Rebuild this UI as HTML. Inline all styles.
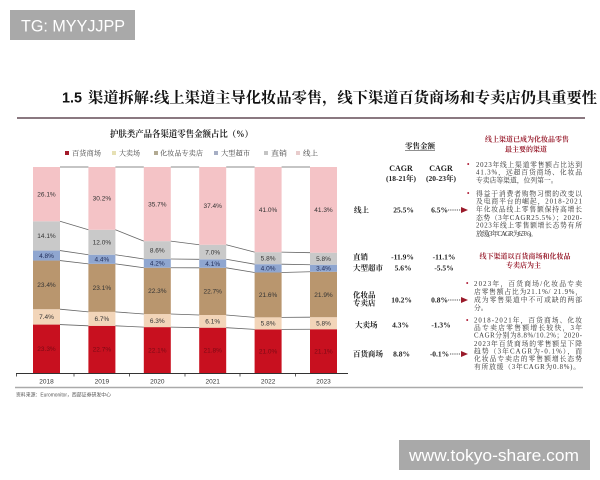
<!DOCTYPE html>
<html><head><meta charset="utf-8"><style>
html,body{margin:0;padding:0;background:#fff;width:600px;height:480px;overflow:hidden}
svg{display:block}
.s{font-family:"Liberation Sans","Noto Sans CJK SC",sans-serif}
.r{font-family:"Liberation Serif","Noto Serif CJK SC",serif}
</style></head><body>
<svg width="600" height="480" viewBox="0 0 600 480" xmlns="http://www.w3.org/2000/svg">
<rect x="0" y="0" width="600" height="480" fill="#fff"/>
<!-- TG box -->
<rect x="10" y="10" width="125" height="30" fill="#a9a9a9"/>
<text x="21" y="31.5" class="s" font-size="17" fill="#fff" textLength="104" lengthAdjust="spacingAndGlyphs">TG: MYYJJPP</text>
<!-- Title -->
<text x="62" y="102.5" class="s" font-size="15" font-weight="700" fill="#111" textLength="20" lengthAdjust="spacingAndGlyphs">1.5</text>
<text x="88" y="102.5" class="r" font-size="15" font-weight="700" fill="#111" textLength="509" lengthAdjust="spacingAndGlyphs">渠道拆解:线上渠道主导化妆品零售，线下渠道百货商场和专卖店仍具重要性</text>
<line x1="17" y1="118" x2="585" y2="118" stroke="#8a7880" stroke-width="2"/>
<!-- chart title -->
<text x="110" y="137" class="r" font-size="9" font-weight="700" fill="#222" textLength="143" lengthAdjust="spacingAndGlyphs">护肤类产品各渠道零售金额占比（%）</text>
<!-- legend -->
<g class="r" font-size="7" fill="#444">
<rect x="65" y="151" width="4" height="4" fill="#a31a2a"/><text x="72" y="155.6" textLength="29" lengthAdjust="spacingAndGlyphs">百货商场</text>
<rect x="112" y="151" width="4" height="4" fill="#e6e0b4"/><text x="119" y="155.6" textLength="21" lengthAdjust="spacingAndGlyphs">大卖场</text>
<rect x="154" y="151" width="4" height="4" fill="#b2aa92"/><text x="160" y="155.6" textLength="43" lengthAdjust="spacingAndGlyphs">化妆品专卖店</text>
<rect x="214" y="151" width="4" height="4" fill="#a6aec4"/><text x="221" y="155.6" textLength="29" lengthAdjust="spacingAndGlyphs">大型超市</text>
<rect x="264" y="151" width="4" height="4" fill="#c4c4c4"/><text x="271" y="155.6" textLength="16" lengthAdjust="spacingAndGlyphs">直销</text>
<rect x="296" y="151" width="4" height="4" fill="#e8cccc"/><text x="303" y="155.6" textLength="15" lengthAdjust="spacingAndGlyphs">线上</text>
</g>
<!-- bars -->
<g>
<rect x="33" y="324.57" width="27" height="48.43" fill="#c8101f"/>
<rect x="33" y="309.19" width="27" height="15.38" fill="#f2d5b9"/>
<rect x="33" y="260.55" width="27" height="48.64" fill="#b9966e"/>
<rect x="33" y="250.57" width="27" height="9.98" fill="#8fa6d0"/>
<rect x="33" y="221.26" width="27" height="29.31" fill="#c9c9c9"/>
<rect x="33" y="167" width="27" height="54.26" fill="#f4c3c6"/>
<rect x="88.4" y="325.81" width="27" height="47.19" fill="#c8101f"/>
<rect x="88.4" y="311.88" width="27" height="13.93" fill="#f2d5b9"/>
<rect x="88.4" y="263.86" width="27" height="48.02" fill="#b9966e"/>
<rect x="88.4" y="254.71" width="27" height="9.15" fill="#8fa6d0"/>
<rect x="88.4" y="229.77" width="27" height="24.94" fill="#c9c9c9"/>
<rect x="88.4" y="167" width="27" height="62.77" fill="#f4c3c6"/>
<rect x="143.8" y="327.11" width="27" height="45.89" fill="#c8101f"/>
<rect x="143.8" y="314.03" width="27" height="13.08" fill="#f2d5b9"/>
<rect x="143.8" y="267.72" width="27" height="46.31" fill="#b9966e"/>
<rect x="143.8" y="259.0" width="27" height="8.72" fill="#8fa6d0"/>
<rect x="143.8" y="241.14" width="27" height="17.86" fill="#c9c9c9"/>
<rect x="143.8" y="167" width="27" height="74.14" fill="#f4c3c6"/>
<rect x="199.2" y="327.68" width="27" height="45.32" fill="#c8101f"/>
<rect x="199.2" y="315.0" width="27" height="12.68" fill="#f2d5b9"/>
<rect x="199.2" y="267.81" width="27" height="47.19" fill="#b9966e"/>
<rect x="199.2" y="259.29" width="27" height="8.52" fill="#8fa6d0"/>
<rect x="199.2" y="244.74" width="27" height="14.55" fill="#c9c9c9"/>
<rect x="199.2" y="167" width="27" height="77.74" fill="#f4c3c6"/>
<rect x="254.6" y="329.39" width="27" height="43.61" fill="#c8101f"/>
<rect x="254.6" y="317.35" width="27" height="12.04" fill="#f2d5b9"/>
<rect x="254.6" y="272.5" width="27" height="44.85" fill="#b9966e"/>
<rect x="254.6" y="264.19" width="27" height="8.31" fill="#8fa6d0"/>
<rect x="254.6" y="252.15" width="27" height="12.04" fill="#c9c9c9"/>
<rect x="254.6" y="167" width="27" height="85.15" fill="#f4c3c6"/>
<rect x="310" y="329.23" width="27" height="43.77" fill="#c8101f"/>
<rect x="310" y="317.2" width="27" height="12.03" fill="#f2d5b9"/>
<rect x="310" y="271.77" width="27" height="45.43" fill="#b9966e"/>
<rect x="310" y="264.72" width="27" height="7.05" fill="#8fa6d0"/>
<rect x="310" y="252.69" width="27" height="12.03" fill="#c9c9c9"/>
<rect x="310" y="167" width="27" height="85.69" fill="#f4c3c6"/>
</g>
<!-- connectors -->
<g stroke="#666" stroke-width="0.8" fill="none">
<path d="M60 167L88.4 167M60 221.26L88.4 229.77M60 250.57L88.4 254.71M60 260.55L88.4 263.86M60 309.19L88.4 311.88M60 324.57L88.4 325.81"/>
<path d="M115.4 167L143.8 167M115.4 229.77L143.8 241.14M115.4 254.71L143.8 259.0M115.4 263.86L143.8 267.72M115.4 311.88L143.8 314.03M115.4 325.81L143.8 327.11"/>
<path d="M170.8 167L199.2 167M170.8 241.14L199.2 244.74M170.8 259.0L199.2 259.29M170.8 267.72L199.2 267.81M170.8 314.03L199.2 315.0M170.8 327.11L199.2 327.68"/>
<path d="M226.2 167L254.6 167M226.2 244.74L254.6 252.15M226.2 259.29L254.6 264.19M226.2 267.81L254.6 272.5M226.2 315.0L254.6 317.35M226.2 327.68L254.6 329.39"/>
<path d="M281.6 167L310 167M281.6 252.15L310 252.69M281.6 264.19L310 264.72M281.6 272.5L310 271.77M281.6 317.35L310 317.2M281.6 329.39L310 329.23"/>
</g>
<!-- bar labels -->
<g class="s" font-size="6.5" text-anchor="middle" fill="#333">
<text x="46.5" y="196.4">26.1%</text><text x="46.5" y="238.2">14.1%</text><text x="46.5" y="257.9" fill="#1e2a55">4.8%</text><text x="46.5" y="287.2">23.4%</text><text x="46.5" y="319.2">7.4%</text><text x="46.5" y="351.1" fill="#7a0a14">23.3%</text>
<text x="101.9" y="200.7">30.2%</text><text x="101.9" y="244.5">12.0%</text><text x="101.9" y="261.6" fill="#1e2a55">4.4%</text><text x="101.9" y="290.2">23.1%</text><text x="101.9" y="321.1">6.7%</text><text x="101.9" y="351.7" fill="#7a0a14">22.7%</text>
<text x="157.3" y="206.4">35.7%</text><text x="157.3" y="252.4">8.6%</text><text x="157.3" y="265.7" fill="#1e2a55">4.2%</text><text x="157.3" y="293.2">22.3%</text><text x="157.3" y="322.9">6.3%</text><text x="157.3" y="352.4" fill="#7a0a14">22.1%</text>
<text x="212.7" y="208.2">37.4%</text><text x="212.7" y="254.3">7.0%</text><text x="212.7" y="265.9" fill="#1e2a55">4.1%</text><text x="212.7" y="293.7">22.7%</text><text x="212.7" y="323.6">6.1%</text><text x="212.7" y="352.6" fill="#7a0a14">21.8%</text>
<text x="268.1" y="211.9">41.0%</text><text x="268.1" y="260.5">5.8%</text><text x="268.1" y="270.6" fill="#1e2a55">4.0%</text><text x="268.1" y="297.2">21.6%</text><text x="268.1" y="325.7">5.8%</text><text x="268.1" y="353.5" fill="#7a0a14">21.0%</text>
<text x="323.5" y="212.1">41.3%</text><text x="323.5" y="261.0">5.8%</text><text x="323.5" y="270.5" fill="#1e2a55">3.4%</text><text x="323.5" y="296.8">21.9%</text><text x="323.5" y="325.5">5.8%</text><text x="323.5" y="353.4" fill="#7a0a14">21.1%</text>
</g>
<!-- axis -->
<line x1="16" y1="373.5" x2="348" y2="373.5" stroke="#333" stroke-width="1"/>
<g stroke="#333" stroke-width="0.8">
<line x1="16.5" y1="373.5" x2="16.5" y2="376.5"/><line x1="74" y1="373.5" x2="74" y2="376.5"/><line x1="129.5" y1="373.5" x2="129.5" y2="376.5"/><line x1="185" y1="373.5" x2="185" y2="376.5"/><line x1="240" y1="373.5" x2="240" y2="376.5"/><line x1="295.5" y1="373.5" x2="295.5" y2="376.5"/>
</g>
<g class="s" font-size="6.5" text-anchor="middle" fill="#333">
<text x="46.5" y="383.5">2018</text><text x="101.9" y="383.5">2019</text><text x="157.3" y="383.5">2020</text><text x="212.7" y="383.5">2021</text><text x="268.1" y="383.5">2022</text><text x="323.5" y="383.5">2023</text>
</g>
<line x1="15" y1="387.5" x2="583" y2="387.5" stroke="#aaa" stroke-width="1.5"/>
<text x="16" y="396.5" class="s" font-size="5" fill="#555" textLength="95" lengthAdjust="spacingAndGlyphs">资料来源：Euromonitor，西部证券研发中心</text>

<!-- table -->
<g class="r" fill="#222" font-weight="700">
<text x="420" y="148.5" font-size="7.5" text-anchor="middle">零售金额</text>
<line x1="405" y1="150.5" x2="435" y2="150.5" stroke="#222" stroke-width="0.6"/>
<text x="401" y="171" font-size="8" text-anchor="middle">CAGR</text>
<text x="401" y="180.8" font-size="7.5" text-anchor="middle">(18-21年)</text>
<text x="441" y="171" font-size="8" text-anchor="middle">CAGR</text>
<text x="441" y="180.8" font-size="7.5" text-anchor="middle">(20-23年)</text>

<g font-size="7.5">
<text x="354" y="212.7">线上</text>
<text x="403.5" y="212.7" text-anchor="middle">25.5%</text>
<text x="439.5" y="212.7" text-anchor="middle">6.5%</text>

<text x="353" y="259.7">直销</text>
<text x="402.5" y="259.7" text-anchor="middle">-11.9%</text>
<text x="444" y="259.7" text-anchor="middle">-11.1%</text>

<text x="353" y="270.7">大型超市</text>
<text x="403" y="270.7" text-anchor="middle">5.6%</text>
<text x="444" y="270.7" text-anchor="middle">-5.5%</text>

<text x="353" y="297.7">化妆品</text>
<text x="353" y="305.7">专卖店</text>
<text x="401.5" y="302.7" text-anchor="middle">10.2%</text>
<text x="439.5" y="302.7" text-anchor="middle">0.8%</text>

<text x="355" y="327.7">大卖场</text>
<text x="400.5" y="327.7" text-anchor="middle">4.3%</text>
<text x="441" y="327.7" text-anchor="middle">-1.3%</text>

<text x="353" y="356.7">百货商场</text>
<text x="401.5" y="356.7" text-anchor="middle">8.8%</text>
<text x="439.5" y="356.7" text-anchor="middle">-0.1%</text>
</g>
</g>
<!-- arrows -->
<g>
<line x1="448" y1="210" x2="462" y2="210" stroke="#555" stroke-width="0.9" stroke-dasharray="1.2 1"/>
<polygon points="461,207 468,210 461,213" fill="#9a1a2a"/>
<line x1="448" y1="300" x2="462" y2="300" stroke="#555" stroke-width="0.9" stroke-dasharray="1.2 1"/>
<polygon points="461,297 468,300 461,303" fill="#9a1a2a"/>
<line x1="450" y1="354" x2="462" y2="354" stroke="#555" stroke-width="0.9" stroke-dasharray="1.2 1"/>
<polygon points="461,351 468,354 461,357" fill="#9a1a2a"/>
</g>

<!-- right headings -->
<g class="r" font-size="7" font-weight="700" fill="#9a2030" text-anchor="middle">
<text x="527" y="141.5">线上渠道已成为化妆品零售</text>
<text x="526" y="151.5">最主要的渠道</text>
<text x="525" y="258.5">线下渠道以百货商场和化妆品</text>
<text x="523.5" y="267.5">专卖店为主</text>
</g>
<!-- bullets -->
<g fill="#b0203a" font-size="7" class="s">
<text x="467" y="166.5">•</text><text x="467" y="195.5">•</text>
<text x="466" y="285.5">•</text><text x="466" y="322.5">•</text>
</g>
<g class="r" font-size="6.8" fill="#333" lengthAdjust="spacing">
<text x="476" y="166.8" textLength="106">2023年线上渠道零售额占比达到</text>
<text x="476" y="174.5" textLength="106">41.3%，远超百货商场、化妆品</text>
<text x="476" y="182.5">专卖店等渠道，位列第一。</text>
<text x="476" y="195.8" textLength="106">得益于消费者购物习惯的改变以</text>
<text x="476" y="203.5" textLength="106">及电商平台的崛起，2018-2021</text>
<text x="476" y="211.5" textLength="106">年化妆品线上零售额保持高增长</text>
<text x="476" y="220.2" textLength="106">态势（3年CAGR25.5%）；2020-</text>
<text x="476" y="227.5" textLength="106">2023年线上零售额增长态势有所</text>
<text x="476" y="235.8" textLength="61">放缓(3年CAGR为6.5%)。</text>

<text x="474" y="285.8" textLength="108">2023年，百货商场/化妆品专卖</text>
<text x="474" y="294.2" textLength="108">店零售额占比为21.1%/ 21.9%，</text>
<text x="474" y="301.8" textLength="108">成为零售渠道中不可或缺的两部</text>
<text x="474" y="309.8">分。</text>
<text x="474" y="322.5" textLength="108">2018-2021年，百货商场、化妆</text>
<text x="474" y="329.8" textLength="108">品专卖店零售额增长较快，3年</text>
<text x="474" y="337.5" textLength="108">CAGR分别为8.8%/10.2%；2020-</text>
<text x="474" y="345.8" textLength="108">2023年百货商场的零售额呈下降</text>
<text x="474" y="353.5" textLength="108">趋势（3年CAGR为-0.1%），而</text>
<text x="474" y="360.8" textLength="108">化妆品专卖店的零售额增长态势</text>
<text x="474" y="369.2" textLength="106">有所放缓（3年CAGR为0.8%)。</text>
</g>

<!-- watermark -->
<rect x="399" y="440" width="191" height="30" fill="#a9a9a9"/>
<text x="409" y="461" class="s" font-size="17" fill="#fff" textLength="170" lengthAdjust="spacingAndGlyphs">www.tokyo-share.com</text>
</svg>
</body></html>
